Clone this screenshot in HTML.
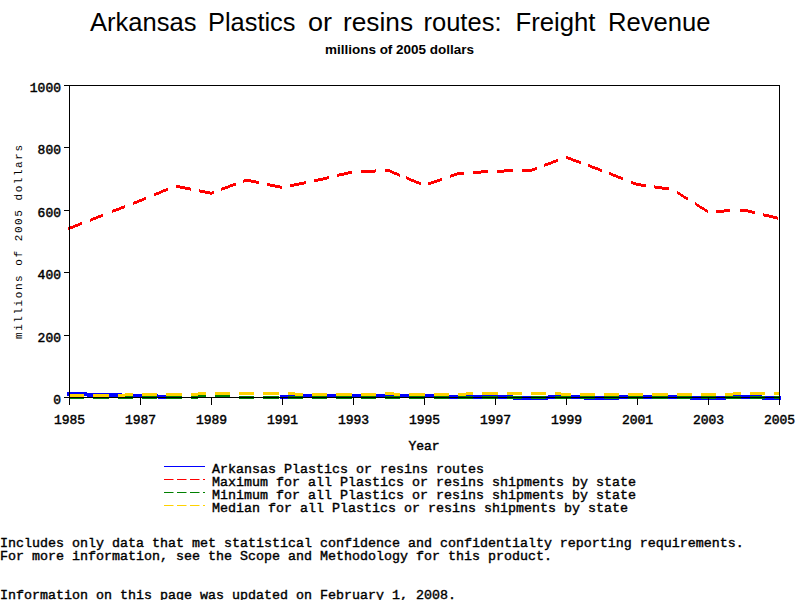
<!DOCTYPE html>
<html><head><meta charset="utf-8"><style>
html,body{margin:0;padding:0;background:#fff;width:800px;height:600px;overflow:hidden}
svg{display:block}
.t{font-family:"Liberation Sans",sans-serif}
.m{font-family:"Liberation Mono",monospace}
</style></head><body>
<svg width="800" height="600" viewBox="0 0 800 600">
<rect width="800" height="600" fill="#fff"/>
<text class="t" x="90.00" y="31.4" font-size="25" textLength="106.50" lengthAdjust="spacingAndGlyphs" fill="#000">Arkansas</text>
<text class="t" x="208.00" y="31.4" font-size="25" textLength="87.50" lengthAdjust="spacingAndGlyphs" fill="#000">Plastics</text>
<text class="t" x="308.00" y="31.4" font-size="25" textLength="24.00" lengthAdjust="spacingAndGlyphs" fill="#000">or</text>
<text class="t" x="343.00" y="31.4" font-size="25" textLength="70.00" lengthAdjust="spacingAndGlyphs" fill="#000">resins</text>
<text class="t" x="423.50" y="31.4" font-size="25" textLength="78.00" lengthAdjust="spacingAndGlyphs" fill="#000">routes:</text>
<text class="t" x="515.50" y="31.4" font-size="25" textLength="80.00" lengthAdjust="spacingAndGlyphs" fill="#000">Freight</text>
<text class="t" x="608.00" y="31.4" font-size="25" textLength="102.50" lengthAdjust="spacingAndGlyphs" fill="#000">Revenue</text>
<text class="t" x="325" y="53.75" font-size="12" font-weight="bold" textLength="149" lengthAdjust="spacingAndGlyphs" fill="#000">millions of 2005 dollars</text>
<g fill="none" stroke-linejoin="round" shape-rendering="crispEdges">
<path d="M69.00,392.00 L104.50,393.00 L140.00,394.00 L175.50,395.00 L175.50,399.00 L140.00,398.00 L104.50,397.00 L69.00,396.00Z M282.00,395.00 L317.50,394.00 L353.00,394.00 L388.50,394.00 L424.00,394.00 L459.50,395.00 L495.00,395.00 L530.50,396.00 L566.00,395.00 L601.50,396.00 L637.00,395.00 L672.50,395.00 L708.00,396.00 L743.50,395.00 L779.00,396.00 L779.00,400.00 L743.50,399.00 L708.00,400.00 L672.50,399.00 L637.00,399.00 L601.50,400.00 L566.00,399.00 L530.50,400.00 L495.00,399.00 L459.50,399.00 L424.00,398.00 L388.50,398.00 L353.00,398.00 L317.50,398.00 L282.00,399.00Z" fill="#0000ff"/>
<circle cx="69.0" cy="394" r="2.2" fill="#0000ff"/><circle cx="175.5" cy="397" r="2.2" fill="#0000ff"/><circle cx="282.0" cy="397" r="2.2" fill="#0000ff"/><circle cx="779.0" cy="398" r="2.2" fill="#0000ff"/>
<path d="M68.40,227.24 L69.00,227.00 L82.45,221.70 L82.45,224.70 L69.00,230.00 L68.40,230.24Z M90.30,218.60 L103.45,213.41 L103.45,216.41 L90.30,221.60Z M111.55,210.26 L125.30,204.91 L125.30,207.91 L111.55,213.26Z M133.20,201.84 L140.00,199.20 L146.20,196.63 L146.20,199.63 L140.00,202.20 L133.20,204.84Z M154.30,193.28 L167.80,187.69 L167.80,190.69 L154.30,196.28Z M176.30,184.66 L190.70,187.58 L190.70,190.58 L176.30,187.66Z M199.05,189.28 L211.00,191.70 L213.70,190.70 L213.70,193.70 L211.00,194.70 L199.05,192.28Z M221.30,187.87 L235.70,182.52 L235.70,185.52 L221.30,190.87Z M243.40,179.65 L246.50,178.50 L258.70,181.08 L258.70,184.08 L246.50,181.50 L243.40,182.65Z M267.20,182.87 L281.60,185.92 L281.60,188.92 L267.20,185.87Z M290.30,184.29 L305.60,181.15 L305.60,184.15 L290.30,187.29Z M314.30,179.36 L317.50,178.70 L328.70,176.05 L328.70,179.05 L317.50,181.70 L314.30,182.36Z M337.20,174.04 L351.95,170.55 L351.95,173.55 L337.20,177.04Z M361.30,170.00 L375.70,169.47 L375.70,172.47 L361.30,173.00Z M385.30,169.12 L388.50,169.00 L399.70,173.67 L399.70,176.67 L388.50,172.00 L385.30,172.12Z M406.30,176.42 L420.70,182.42 L420.70,185.42 L406.30,179.42Z M428.40,182.31 L441.60,177.85 L441.60,180.85 L428.40,185.31Z M450.30,174.91 L459.50,171.80 L463.70,171.55 L463.70,174.55 L459.50,174.80 L450.30,177.91Z M473.40,170.98 L488.45,170.09 L488.45,173.09 L473.40,173.98Z M497.40,169.65 L512.80,169.35 L512.80,172.35 L497.40,172.65Z M522.40,169.16 L530.50,169.00 L536.60,166.73 L536.60,169.73 L530.50,172.00 L522.40,172.16Z M544.40,163.83 L558.45,158.61 L558.45,161.61 L544.40,166.83Z M566.20,155.87 L580.60,161.19 L580.60,164.19 L566.20,158.87Z M588.40,164.07 L601.50,168.90 L601.80,169.02 L601.80,172.02 L601.50,171.90 L588.40,167.07Z M609.40,172.04 L623.45,177.62 L623.45,180.62 L609.40,175.04Z M631.30,180.74 L637.00,183.00 L645.70,184.23 L645.70,187.23 L637.00,186.00 L631.30,183.74Z M654.30,185.44 L669.45,187.57 L669.45,190.57 L654.30,188.44Z M676.55,190.54 L688.45,198.02 L688.45,201.02 L676.55,193.54Z M695.05,202.17 L707.50,209.99 L707.50,212.99 L695.05,205.17Z M716.30,209.88 L730.45,209.16 L730.45,212.16 L716.30,212.88Z M740.30,208.66 L743.50,208.50 L754.70,211.18 L754.70,214.18 L743.50,211.50 L740.30,211.66Z M763.30,213.24 L777.70,216.69 L777.70,219.69 L763.30,216.24Z" fill="#ff0000" stroke="none"/>
<path d="M69.00,396 H84.30 V399 H69.00Z M93.31,396 H108.61 V399 H93.31Z M117.62,396 H132.92 V399 H117.62Z M141.93,396 H157.23 V399 H141.93Z M166.24,396 H181.54 V399 H166.24Z M190.55,396 H198.00 V399 H190.55Z M198.00,395 H205.85 V398 H198.00Z M214.86,395 H230.16 V398 H214.86Z M239.17,396 H254.47 V399 H239.17Z M263.48,396 H278.78 V399 H263.48Z M287.79,396 H303.09 V399 H287.79Z M312.10,396 H327.40 V399 H312.10Z M336.41,396 H351.71 V399 H336.41Z M360.72,396 H376.02 V399 H360.72Z M385.03,396 H400.33 V399 H385.03Z M409.34,396 H424.64 V399 H409.34Z M433.65,396 H448.95 V399 H433.65Z M457.96,396 H473.26 V399 H457.96Z M482.27,396 H497.57 V399 H482.27Z M506.58,396 H521.88 V399 H506.58Z M530.89,396 H546.19 V399 H530.89Z M555.20,396 H570.50 V399 H555.20Z M579.51,396 H594.81 V399 H579.51Z M603.82,396 H619.12 V399 H603.82Z M628.13,396 H643.43 V399 H628.13Z M652.44,396 H667.74 V399 H652.44Z M676.75,396 H692.05 V399 H676.75Z M701.06,396 H716.36 V399 H701.06Z M725.37,396 H740.67 V399 H725.37Z M749.68,396 H764.98 V399 H749.68Z M773.99,396 H780.00 V399 H773.99Z " fill="#008000"/>
<path d="M69.00,394 H84.30 V397 H69.00Z M93.31,394 H108.61 V397 H93.31Z M117.62,394 H125.00 V397 H117.62Z M125.00,393 H132.92 V396 H125.00Z M141.93,393 H157.23 V396 H141.93Z M166.24,393 H181.54 V396 H166.24Z M190.55,393 H198.00 V396 H190.55Z M198.00,392 H205.85 V395 H198.00Z M214.86,392 H230.16 V395 H214.86Z M239.17,392 H254.47 V395 H239.17Z M263.48,392 H278.78 V395 H263.48Z M287.79,392 H295.00 V395 H287.79Z M295.00,393 H303.09 V396 H295.00Z M312.10,393 H327.40 V396 H312.10Z M336.41,393 H351.71 V396 H336.41Z M360.72,393 H376.02 V396 H360.72Z M385.03,392 H394.00 V395 H385.03Z M394.00,393 H400.33 V396 H394.00Z M409.34,393 H424.64 V396 H409.34Z M433.65,393 H448.95 V396 H433.65Z M457.96,393 H466.00 V396 H457.96Z M466.00,392 H473.26 V395 H466.00Z M482.27,392 H497.57 V395 H482.27Z M506.58,392 H521.88 V395 H506.58Z M530.89,392 H546.19 V395 H530.89Z M555.20,392 H561.00 V395 H555.20Z M561.00,393 H570.50 V396 H561.00Z M579.51,393 H594.81 V396 H579.51Z M603.82,393 H619.12 V396 H603.82Z M628.13,393 H643.43 V396 H628.13Z M652.44,393 H667.74 V396 H652.44Z M676.75,393 H692.05 V396 H676.75Z M701.06,393 H716.36 V396 H701.06Z M725.37,393 H733.00 V396 H725.37Z M733.00,392 H740.67 V395 H733.00Z M749.68,392 H764.98 V395 H749.68Z M773.99,392 H780.00 V395 H773.99Z " fill="#ffd200"/>
</g>
<g stroke="#000" stroke-width="1" fill="none" shape-rendering="crispEdges">
<rect x="69.5" y="85.5" width="710" height="312"/>
<line x1="64" y1="85.5" x2="69" y2="85.5"/>
<line x1="64" y1="147.5" x2="69" y2="147.5"/>
<line x1="64" y1="210.5" x2="69" y2="210.5"/>
<line x1="64" y1="272.5" x2="69" y2="272.5"/>
<line x1="64" y1="335.5" x2="69" y2="335.5"/>
<line x1="64" y1="397.5" x2="69" y2="397.5"/>
<line x1="69.5" y1="397" x2="69.5" y2="405"/>
<line x1="140.5" y1="397" x2="140.5" y2="405"/>
<line x1="211.5" y1="397" x2="211.5" y2="405"/>
<line x1="282.5" y1="397" x2="282.5" y2="405"/>
<line x1="353.5" y1="397" x2="353.5" y2="405"/>
<line x1="424.5" y1="397" x2="424.5" y2="405"/>
<line x1="495.5" y1="397" x2="495.5" y2="405"/>
<line x1="566.5" y1="397" x2="566.5" y2="405"/>
<line x1="637.5" y1="397" x2="637.5" y2="405"/>
<line x1="708.5" y1="397" x2="708.5" y2="405"/>
<line x1="779.5" y1="397" x2="779.5" y2="405"/>
</g>
<g class="m" font-size="13" fill="#000" stroke="#000" stroke-width="0.45">
<text x="61" y="91.6" text-anchor="end">1000</text>
<text x="61" y="153.6" text-anchor="end">800</text>
<text x="61" y="216.6" text-anchor="end">600</text>
<text x="61" y="278.6" text-anchor="end">400</text>
<text x="61" y="341.6" text-anchor="end">200</text>
<text x="61" y="403.6" text-anchor="end">0</text>
<text x="69.5" y="423.8" text-anchor="middle">1985</text>
<text x="140.5" y="423.8" text-anchor="middle">1987</text>
<text x="211.5" y="423.8" text-anchor="middle">1989</text>
<text x="282.5" y="423.8" text-anchor="middle">1991</text>
<text x="353.5" y="423.8" text-anchor="middle">1993</text>
<text x="424.5" y="423.8" text-anchor="middle">1995</text>
<text x="495.5" y="423.8" text-anchor="middle">1997</text>
<text x="566.5" y="423.8" text-anchor="middle">1999</text>
<text x="637.5" y="423.8" text-anchor="middle">2001</text>
<text x="708.5" y="423.8" text-anchor="middle">2003</text>
<text x="779.5" y="423.8" text-anchor="middle">2005</text>
<text x="424" y="450" text-anchor="middle">Year</text>
</g>
<text class="m" font-size="11" fill="#000" transform="translate(22,242) rotate(-90)" text-anchor="middle" textLength="194" lengthAdjust="spacing">millions of 2005 dollars</text>
<line x1="164" y1="466.5" x2="205" y2="466.5" stroke="#0000ff" stroke-width="1"/>
<text class="m" x="212" y="472.8" font-size="13.33" fill="#000" stroke="#000" stroke-width="0.4">Arkansas Plastics or resins routes</text>
<line x1="164" y1="479.5" x2="205" y2="479.5" stroke="#ff0000" stroke-width="1" stroke-dasharray="9.5 3.5"/>
<text class="m" x="212" y="485.8" font-size="13.33" fill="#000" stroke="#000" stroke-width="0.4">Maximum for all Plastics or resins shipments by state</text>
<line x1="164" y1="492.5" x2="205" y2="492.5" stroke="#008000" stroke-width="1" stroke-dasharray="9.5 3.5"/>
<text class="m" x="212" y="498.8" font-size="13.33" fill="#000" stroke="#000" stroke-width="0.4">Minimum for all Plastics or resins shipments by state</text>
<line x1="164" y1="505.5" x2="205" y2="505.5" stroke="#ffd200" stroke-width="1" stroke-dasharray="9.5 3.5"/>
<text class="m" x="212" y="511.8" font-size="13.33" fill="#000" stroke="#000" stroke-width="0.4">Median for all Plastics or resins shipments by state</text>
<text class="m" x="0" y="547" font-size="13.33" fill="#000" stroke="#000" stroke-width="0.4">Includes only data that met statistical confidence and confidentialty reporting requirements.</text>
<text class="m" x="0" y="559.5" font-size="13.33" fill="#000" stroke="#000" stroke-width="0.4">For more information, see the Scope and Methodology for this product.</text>
<text class="m" x="0" y="598.75" font-size="13.33" fill="#000" stroke="#000" stroke-width="0.4">Information on this page was updated on February 1, 2008.</text>
</svg>
</body></html>
